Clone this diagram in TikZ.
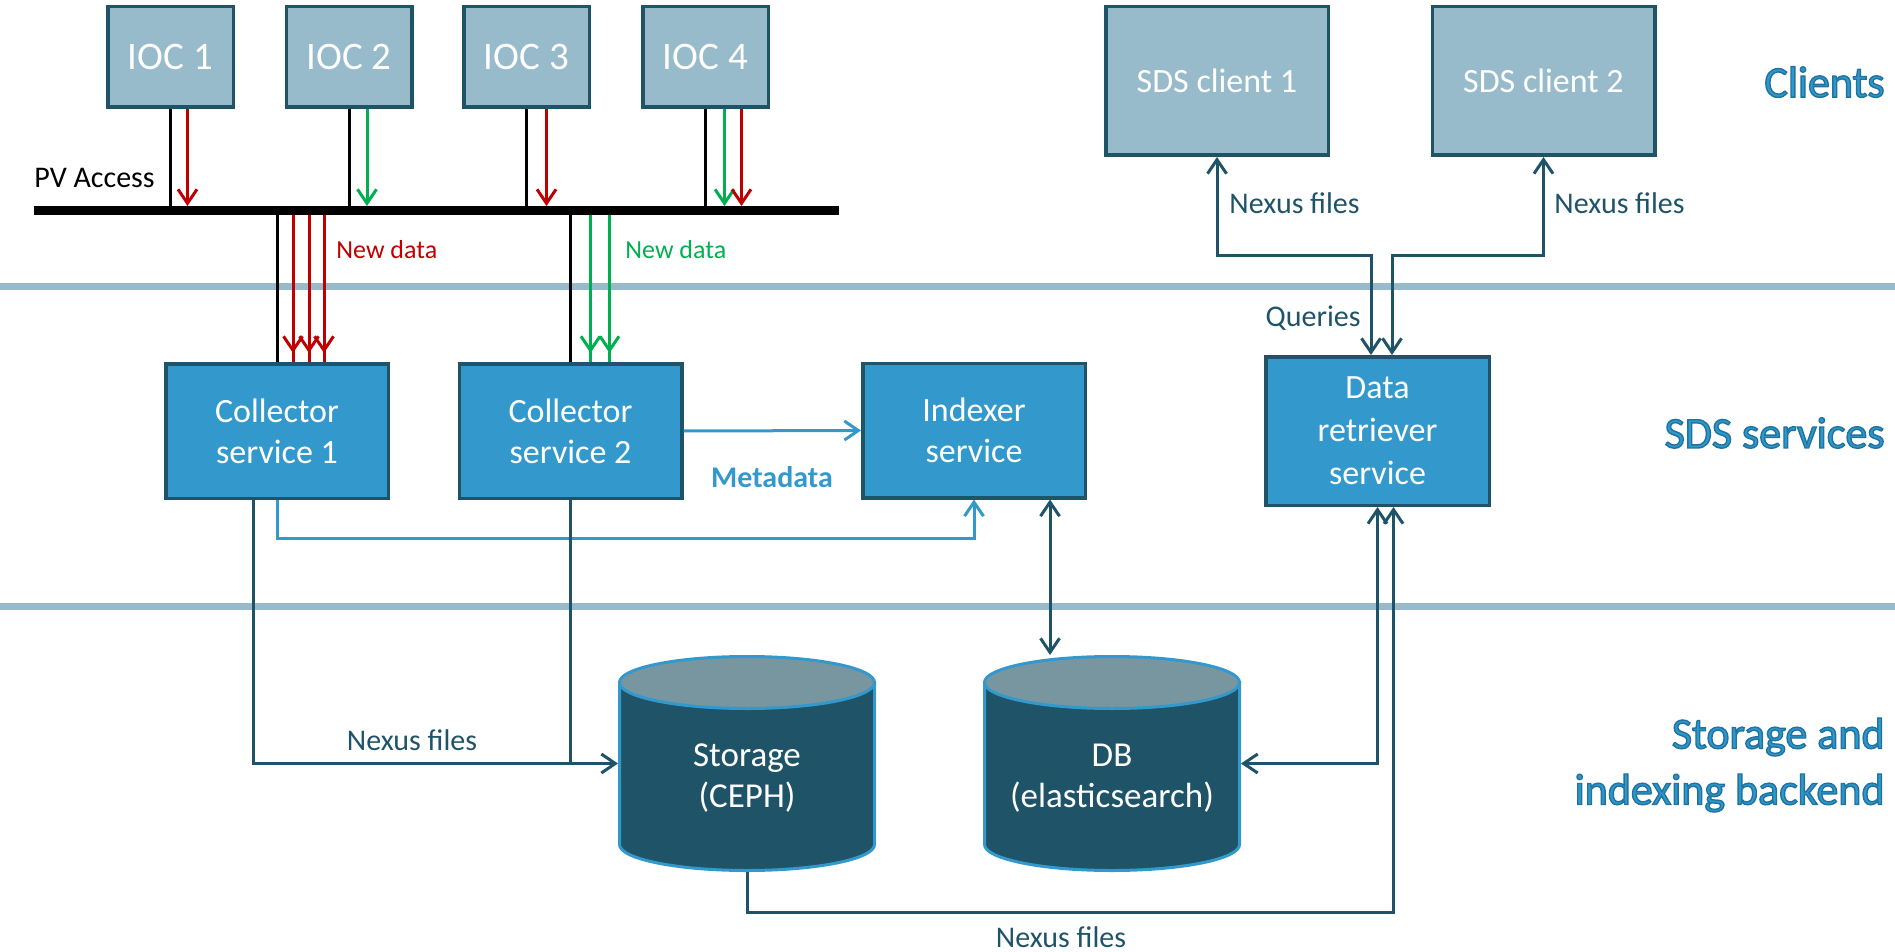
\documentclass[tikz,border=0pt]{standalone}
\usepackage{fontspec}
\setmainfont{Carlito}
\usepackage{tikz}
\usetikzlibrary{positioning}
\usetikzlibrary{calc}
\usetikzlibrary{arrows.meta}
\usepackage{xcolor}

\definecolor{dkteal}{HTML}{1F5468}
\definecolor{greyblue}{HTML}{98BBCB}
\definecolor{midblue}{HTML}{3399CC}
\definecolor{cyltop}{HTML}{7896A0}
\definecolor{secblue}{HTML}{2E97CB}
\definecolor{newred}{HTML}{C00000}
\definecolor{newgreen}{HTML}{00B050}

% layer titles are printed with a darker outline
\newcommand{\outlined}[1]{\special{pdf:literal direct 2 Tr 0.7 w 0.12 0.45 0.62 RG}#1\special{pdf:literal direct 0 Tr}}

\tikzset{
    >={Straight Barb[length=7pt,width=9.5pt]},
    sep/.style={greyblue, line width=3.5pt},
    ioc/.style={draw=dkteal, fill=greyblue, line width=1.75pt, text=white,
        minimum width=62.75pt, minimum height=50.25pt, align=center,
        font=\fontsize{19.5}{22}\selectfont},
    client/.style={ioc, minimum width=111.25pt, minimum height=74.25pt,
        font=\fontsize{17}{20.5}\selectfont},
    svc/.style={ioc, fill=midblue, minimum width=111.25pt, minimum height=67.25pt,
        font=\fontsize{17}{20.5}\selectfont},
    cyl/.style={minimum width=129pt, minimum height=108.5pt, inner sep=0pt, outer sep=0pt},
    cylbody/.style={fill=dkteal, draw=midblue, line width=1.5pt},
    cylend/.style={fill=cyltop, draw=midblue, line width=1.5pt},
    cyltext/.style={text=white, align=center, font=\fontsize{17.5}{20.5}\selectfont},
    wire/.style={black, line width=1.5pt},
    dk/.style={dkteal, line width=1.5pt},
    lb/.style={midblue, line width=1.5pt},
    newdata/.style={line width=1.5pt, ->},
    lbl/.style={inner sep=0pt, text=dkteal, font=\fontsize{15}{18}\selectfont},
    layer/.style={inner sep=0pt, anchor=east, align=right, text=secblue,
        font=\fontsize{22}{28}\selectfont}
}

\begin{document}
\begin{tikzpicture}[x=0.5pt,y=-0.5pt]
    \useasboundingbox (0,0) rectangle (1895,952);

    % layers
    \draw[sep] (0,287) -- (1895,287);
    \draw[sep] (0,606) -- (1895,606);
    \node[layer] (lay-cl) at (1885,82) {\outlined{Clients}};
    \node[layer] (lay-svc) at (1885,433) {\outlined{SDS services}};
    \node[layer] (lay-be) at (1885,765) {\outlined{Storage and}\\\outlined{indexing backend}};

    % IOCs and the PV Access bus
    \coordinate (bus-w) at (34,210.5);
    \coordinate (bus-e) at (839,210.5);
    \coordinate (bus-top) at (0,206);
    \coordinate (bus-bot) at (0,215);
    \foreach \i/\x in {1/170.5, 2/349, 3/526.5, 4/705.5}
    {
        \node[ioc] (ioc\i) at (\x,57) {IOC \i};
        \draw[wire] (ioc\i.south) -- (ioc\i.south |- bus-w);
    }
    \foreach \i/\dx/\c in {1/17/newred, 2/18/newgreen, 3/20/newred, 4/19/newgreen, 4/36/newred}
    {
        \draw[newdata, \c] ($(ioc\i.south)+(\dx,0)$) coordinate (t) -- (t |- bus-top);
    }
    \draw[black, line width=4.5pt] (bus-w) -- (bus-e);
    \node[inner sep=0pt, anchor=west, font=\fontsize{15}{18}\selectfont] (pv) at (34,178) {PV Access};

    % SDS services
    \node[svc] (col1) at (277,431) {Collector\\service 1};
    \node[svc] (col2) at (570.5,431) {Collector\\service 2};
    \node[svc] (idx) at (974,430.5) {Indexer\\service};
    \node[svc, minimum width=111.75pt, minimum height=74.25pt,
        font=\fontsize{17}{21.5}\selectfont] (ret) at (1377.5,431) {Data\\retriever\\service};

    \draw[wire] (col1.north |- bus-bot) -- (col1.north);
    \draw[wire] (col2.north |- bus-bot) -- (col2.north);
    \foreach \dx in {16,32,47}
        \draw[newdata, newred, shorten >=4.5pt] ($(col1.north)+(\dx,0)$) coordinate (t) -- (t |- bus-bot) -- (t);
    \foreach \dx in {20,39}
        \draw[newdata, newgreen, shorten >=4.5pt] ($(col2.north)+(\dx,0)$) coordinate (t) -- (t |- bus-bot) -- (t);
    \node[inner sep=0pt, anchor=west, text=newred, font=\fontsize{13}{16}\selectfont] (nd1) at (336,250) {New data};
    \node[inner sep=0pt, anchor=west, text=newgreen, font=\fontsize{13}{16}\selectfont] (nd2) at (625,250) {New data};

    % clients
    \node[client] (cl1) at (1217,81) {SDS client 1};
    \node[client] (cl2) at (1543.5,81) {SDS client 2};
    \coordinate (q1) at (1371,256);
    \coordinate (q2) at (1392,256);
    \draw[dk, <->] (cl1.south) |- (q1) -- (q1 |- ret.north);
    \draw[dk, <->] (cl2.south) |- (q2) -- (q2 |- ret.north);
    \node[lbl, anchor=west] (nx1) at (1229,203) {Nexus files};
    \node[lbl, anchor=west] (nx2) at (1554,203) {Nexus files};
    \node[lbl, anchor=east] (qu) at (1361,318) {Queries};

    % storage and DB
    \foreach \n/\cx/\txt in {sto/747/{Storage\\(CEPH)}, db/1112/{DB\\(elasticsearch)}}
    {
        \path[cylbody] (\cx-127.5,682.5) -- (\cx-127.5,844.5)
            arc[start angle=180, end angle=0, x radius=127.5, y radius=26]
            -- (\cx+127.5,682.5) -- cycle;
        \draw[cylend] (\cx,682.5) ellipse[x radius=127.5, y radius=26];
        \node[cyl] (\n) at (\cx,763.5) {};
        \node[cyltext] (\n-txt) at (\cx,778) {\txt};
    }

    % metadata
    \draw[lb, ->] (col2.east) -- (idx.west);
    \draw[lb, ->] (col1.south) -- ++(0,38) -| (idx.south);
    \node[inner sep=0pt, text=midblue, font=\bfseries\fontsize{15}{18}\selectfont] (meta) at (772,477) {Metadata};

    % nexus files
    \draw[dk, ->] ($(col1.south)+(-24,0)$) |- (sto.west);
    \draw[dk] (col2.south) -- (col2.south |- sto.west);
    \node[lbl] (nx3) at (412,740) {Nexus files};
    \draw[dk, ->] (sto.south) -- ++(0,40) -| ($(ret.south)+(16,0)$);
    \node[lbl] (nx4) at (1061,937) {Nexus files};
    \draw[dk, <->] (ret.south) |- (db.east);
    \draw[dk, <->] ($(idx.south)+(76,0)$) -- ($(db.north)+(-62,0)$);
\end{tikzpicture}
\end{document}
